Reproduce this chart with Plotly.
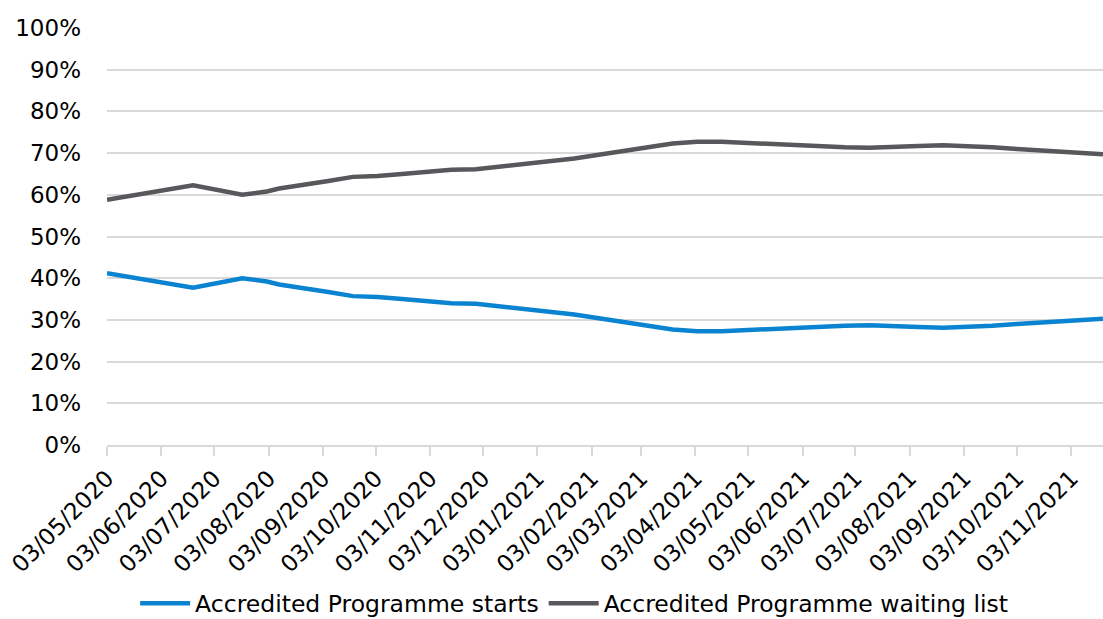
import plotly.graph_objects as go
import pandas as pd

# Weekly index offsets (weeks after 03/05/2020) at which values were read
week_offsets = [0, 7, 11, 13, 14, 16, 18, 20, 22, 24, 26, 28, 30, 32, 34, 36, 38, 40,
                42, 44, 46, 48, 50, 52, 54, 56, 58, 60, 62, 64, 66, 68, 70, 72, 74,
                76, 78, 80, 81]

waiting_list = [58.8, 62.3, 60.0, 60.8, 61.5, 62.3, 63.3, 64.3, 64.5, 65.0, 65.4, 66.0,
                66.1, 66.7, 67.3, 67.9, 68.7, 69.6, 70.4, 71.4, 72.3, 72.7, 72.7, 72.4,
                72.2, 71.9, 71.6, 71.4, 71.3, 71.4, 71.7, 71.9, 71.7, 71.4, 71.0, 70.6,
                70.2, 69.9, 69.7]

starts = [41.2, 37.7, 40.0, 39.2, 38.5, 37.7, 36.7, 35.7, 35.5, 35.0, 34.6, 34.0,
          33.9, 33.3, 32.7, 32.1, 31.3, 30.4, 29.6, 28.6, 27.7, 27.3, 27.3, 27.6,
          27.8, 28.1, 28.4, 28.6, 28.7, 28.6, 28.3, 28.1, 28.3, 28.6, 29.0, 29.4,
          29.8, 30.1, 30.3]

y_tick_values = list(range(0, 101, 10))
y_tick_labels = [f"{v}%" for v in y_tick_values]

start_date = pd.Timestamp("2020-05-03")
dates = [start_date + pd.Timedelta(weeks=w) for w in week_offsets]

series_names = ["Accredited Programme starts", "Accredited Programme waiting list"]
colors = ["#0A84D0", "#58585C"]

fig = go.Figure()
for name, vals, col in zip(series_names, [starts, waiting_list], colors):
    fig.add_trace(go.Scatter(x=dates, y=vals, mode="lines", name=name,
                             line=dict(color=col, width=4.5)))

font_family = "DejaVu Sans"
fs = 23
fig.update_layout(
    width=1103, height=619,
    margin=dict(l=107, r=0, t=28, b=174),
    paper_bgcolor="white", plot_bgcolor="white",
    font=dict(family=font_family, size=fs, color="#000000"),
    showlegend=True,
    legend=dict(orientation="h", x=0.469, xanchor="center", yref="container",
                y=0.025, yanchor="middle", font=dict(size=23.5, family=font_family),
                itemwidth=50, tracegroupgap=0),
    hovermode=False,
)
fig.update_xaxes(
    type="date", range=[dates[0], dates[-1]],
    tick0="2020-05-03", dtick="M1", tickformat="%d/%m/%Y", tickangle=-45,
    ticks="outside", ticklen=9, tickcolor="#D9D9D9", tickwidth=1.5,
    showline=True, linecolor="#D9D9D9", linewidth=1.5,
    showgrid=False, zeroline=False,
    tickfont=dict(size=fs, family=font_family),
)
fig.update_yaxes(
    range=[0, 100], tickmode="array", tickvals=y_tick_values, ticktext=y_tick_labels,
    showgrid=True, gridcolor="#D9D9D9", gridwidth=1.5, zeroline=False,
    showline=False, ticks="", ticklabelstandoff=25,
    tickfont=dict(size=fs, family=font_family),
)
fig.write_html("out.html", config={"displayModeBar": False},
               post_script="document.body.style.margin='0';document.body.style.overflow='hidden';")
